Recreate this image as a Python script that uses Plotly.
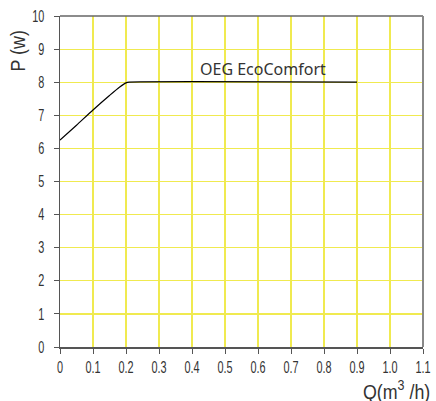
import plotly.graph_objects as go

q_values = [0.0, 0.05, 0.10, 0.15, 0.18, 0.20, 0.21, 0.90]
p_values = [6.25, 6.70, 7.16, 7.60, 7.85, 7.98, 8.0, 8.0]
x_ticks = [0, 0.1, 0.2, 0.3, 0.4, 0.5, 0.6, 0.7, 0.8, 0.9, 1.0, 1.1]
x_tick_labels = ["0", "0.1", "0.2", "0.3", "0.4", "0.5", "0.6", "0.7", "0.8", "0.9", "1.0", "1.1"]
y_ticks = list(range(0, 11))
series_label = "OEG EcoComfort"

narrow = "Liberation Sans, Arial"
tick_font = dict(family=narrow, size=16, color="#333")
grid_color = "rgb(240,234,80)"

fig = go.Figure()
fig.add_trace(go.Scatter(x=q_values, y=p_values, mode="lines",
                         line=dict(color="black", width=1.2, shape="spline", smoothing=0.6),
                         hoverinfo="skip", showlegend=False))

fig.add_annotation(x=0.615, y=8.4, xref="x", yref="y", text=series_label, showarrow=False,
                   font=dict(family="Noto Sans, Open Sans", size=16, color="#333"))
fig.add_annotation(x=0, y=8.94, xref="paper", yref="y", xshift=-43, text="P (w)", textangle=-90,
                   showarrow=False, font=dict(family=narrow, size=21, color="#333"),
                   xanchor="center", yanchor="middle")
fig.add_annotation(x=1.0, y=0, xref="paper", yref="paper", yshift=-28, xshift=9,
                   text="Q(m<sup>3</sup> /h)", showarrow=False, xanchor="right", yanchor="top",
                   font=dict(family=narrow, size=21, color="#333"))

# frame top and right
fig.add_shape(type="line", xref="paper", yref="paper", x0=0, x1=1, y0=1, y1=1,
              line=dict(color="#666", width=1.5))
fig.add_shape(type="line", xref="paper", yref="paper", x0=1, x1=1, y0=0, y1=1,
              line=dict(color="#888", width=2))

fig.update_xaxes(range=[0, 1.1], tickvals=x_ticks, ticktext=x_tick_labels,
                 showgrid=True, gridcolor=grid_color, gridwidth=1.2,
                 showline=True, linecolor="#555", linewidth=1.5,
                 ticks="outside", ticklen=5, tickcolor="#555", tickfont=tick_font,
                 zeroline=False, fixedrange=True, automargin=False)
fig.update_yaxes(range=[0, 10], tickvals=y_ticks,
                 showgrid=True, gridcolor=grid_color, gridwidth=1.2,
                 showline=True, linecolor="#555", linewidth=1.5,
                 ticks="outside", ticklen=5, tickcolor="#555", tickfont=tick_font,
                 ticklabelstandoff=6,
                 zeroline=False, fixedrange=True, automargin=False)

fig.update_layout(width=436, height=401, margin=dict(l=60, r=13, t=16, b=54, autoexpand=False),
                  plot_bgcolor="white", paper_bgcolor="white", showlegend=False)

post = """
document.body.style.margin = '0';
function squeeze(list, sx, anchor) {
  list.forEach(function(t) {
    try {
      var b = t.getBBox();
      var ox = anchor === 'end' ? b.x + b.width : (anchor === 'start' ? b.x : b.x + b.width / 2);
      var oy = b.y + b.height / 2;
      var tr = t.getAttribute('transform') || '';
      t.setAttribute('transform', tr + ' translate(' + ox + ',' + oy + ') scale(' + sx + ',1) translate(' + (-ox) + ',' + (-oy) + ')');
    } catch (e) {}
  });
}
squeeze(document.querySelectorAll('.xtick text'), 0.68, 'middle');
squeeze(document.querySelectorAll('.ytick text'), 0.68, 'end');
var ann = Array.prototype.slice.call(document.querySelectorAll('.annotation-text'));
squeeze(ann.filter(function(t){ return t.textContent.indexOf('Q(') === 0; }), 0.85, 'end');
squeeze(ann.filter(function(t){ return t.textContent.indexOf('P (') === 0; }), 0.85, 'middle');
"""
fig.write_html("out.html", post_script=post, config={"displayModeBar": False, "staticPlot": True})
